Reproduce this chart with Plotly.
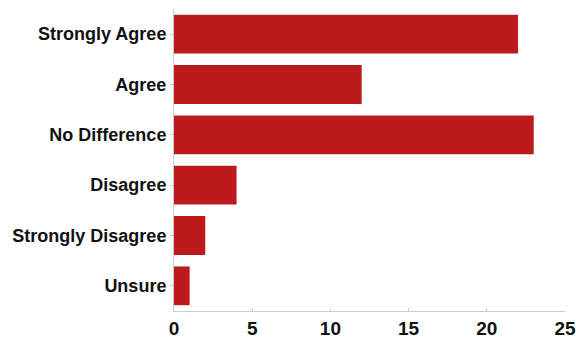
import plotly.graph_objects as go

categories = ["Strongly Agree", "Agree", "No Difference", "Disagree", "Strongly Disagree", "Unsure"]
values = [22, 12, 23, 4, 2, 1]
tick_vals = [0, 5, 10, 15, 20, 25]

fig = go.Figure(go.Bar(
    x=values, y=categories, orientation="h",
    marker=dict(color="#bd1a1c", line=dict(width=0)),
    width=0.77,
))

fig.update_layout(
    width=576, height=339,
    margin=dict(l=174, r=11, t=9, b=28, autoexpand=False),
    paper_bgcolor="white", plot_bgcolor="white",
    showlegend=False,
    font=dict(family="Liberation Sans, Arial, sans-serif", color="#111111"),
)
fig.update_xaxes(
    range=[0, 25], tickvals=tick_vals, showgrid=False, zeroline=False,
    showline=True, linecolor="#cccccc", linewidth=1, automargin=False,
    ticks="inside", ticklen=3, tickcolor="#cccccc",
    tickfont=dict(size=19, family="Liberation Sans, Arial, sans-serif", weight="bold"),
)
fig.update_yaxes(
    categoryorder="array", categoryarray=categories[::-1],
    range=[-0.5, 5.5], showgrid=False, zeroline=False,
    showline=True, linecolor="#cccccc", linewidth=1, automargin=False,
    ticks="outside", ticklen=3, tickcolor="#cccccc",
    tickfont=dict(size=18, family="Liberation Sans, Arial, sans-serif", weight="bold"),
)

# remove the default page margin so the 576x339 figure fills the window exactly
fig.write_html(
    "out.html",
    config={"displayModeBar": False},
    post_script="document.body.style.margin='0';document.documentElement.style.overflow='hidden';",
)
